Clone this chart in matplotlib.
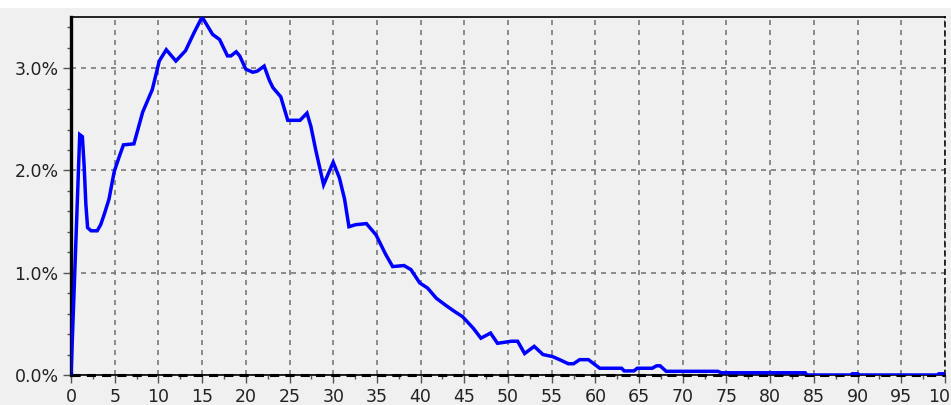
import matplotlib
matplotlib.use("Agg")
import matplotlib.pyplot as plt
from matplotlib.ticker import MultipleLocator, PercentFormatter
from matplotlib.patches import Rectangle

# values (x units, share in percent)
xs = [0, 0.2, 0.4, 0.6, 0.8, 1.0, 1.3, 1.5, 1.7, 1.9, 2.3, 3.0, 3.4, 3.8,
      4.35, 4.7, 4.95, 5.5, 6.0, 7.2, 8.2, 9.3, 9.9, 10.1, 10.9, 12.0, 13.1,
      14.1, 15.0, 16.2, 17.0, 17.9, 18.3, 18.9, 19.3, 20.0, 20.8, 21.3, 22.1,
      22.7, 23.1, 24.0, 24.8, 26.2, 27.0, 27.45, 28.0, 28.9, 30.0, 30.7, 31.3,
      31.8, 32.6, 33.8, 34.9, 36.0, 36.8, 38.1, 38.9, 39.9, 40.8, 41.8, 42.9,
      43.9, 44.8, 46.0, 46.9, 48.0, 48.8, 50.4, 51.1, 51.9, 53.0, 54.0, 55.1,
      55.9, 56.9, 57.5, 58.2, 59.2, 60.5, 63.0, 63.3, 64.4, 64.8, 66.5, 67.0,
      67.4, 68.1, 74.0, 74.4, 84.0, 84.2, 89.3, 89.4, 90.0, 90.1, 99.2, 99.3,
      100]
ys = [0, 0.46, 0.93, 1.40, 1.88, 2.35, 2.33, 2.05, 1.67, 1.44, 1.41, 1.41,
      1.47, 1.57, 1.72, 1.88, 1.99, 2.13, 2.25, 2.26, 2.57, 2.79, 3.00, 3.07,
      3.18, 3.07, 3.17, 3.35, 3.50, 3.33, 3.28, 3.12, 3.12, 3.16, 3.12, 2.99,
      2.96, 2.97, 3.02, 2.88, 2.81, 2.72, 2.49, 2.49, 2.56, 2.43, 2.20, 1.86,
      2.08, 1.93, 1.72, 1.45, 1.47, 1.48, 1.37, 1.18, 1.06, 1.07, 1.03, 0.90,
      0.85, 0.75, 0.68, 0.62, 0.57, 0.46, 0.36, 0.41, 0.31, 0.33, 0.33, 0.21,
      0.28, 0.20, 0.18, 0.15, 0.11, 0.11, 0.15, 0.15, 0.066, 0.066, 0.04, 0.04,
      0.066, 0.066, 0.09, 0.09, 0.036, 0.036, 0.022, 0.022, 0, 0, 0.012,
      0.012, 0, 0, 0.012, 0.012]

bg = "#f0f0f0"
fig = plt.figure(figsize=(9.51, 4.05), dpi=100, facecolor="white")
fig.patches.append(Rectangle((0, 0), 1, 1 - 8 / 405, transform=fig.transFigure,
                             facecolor=bg, edgecolor="none", zorder=-10))
ax = fig.add_axes([71 / 951, 1 - 375 / 405, 874 / 951, 358 / 405])
ax.set_facecolor(bg)

ax.plot(xs, ys, color="#0000ff", lw=2.5, solid_joinstyle="miter", zorder=3)

ax.set_xlim(0, 100)
ax.set_ylim(0, 3.5)
ax.xaxis.set_major_locator(MultipleLocator(5))
ax.xaxis.set_minor_locator(MultipleLocator(2.5))
ax.yaxis.set_major_locator(MultipleLocator(1.0))
ax.yaxis.set_minor_locator(MultipleLocator(0.2))
ax.yaxis.set_major_formatter(PercentFormatter(xmax=100, decimals=1))

ax.grid(True, which="major", color="#7a7a7a", ls=(0, (3, 3)), lw=1.2)
ax.tick_params(which="major", length=6, width=1, color="#555555",
               labelsize=12.5, labelcolor="#222222", pad=3)
ax.tick_params(which="minor", length=3, width=1, color="#555555")

ax.spines["left"].set_linewidth(2.4)
ax.spines["top"].set_linewidth(1.2)
ax.spines["bottom"].set_linewidth(1.2)
ax.spines["right"].set_linestyle((0, (3, 3)))
ax.spines["right"].set_linewidth(1.1)
ax.axhline(0, color="black", ls=(0, (3, 2)), lw=2.2, clip_on=False, zorder=2)

fig.savefig("out.png", dpi=100, facecolor=fig.get_facecolor())
